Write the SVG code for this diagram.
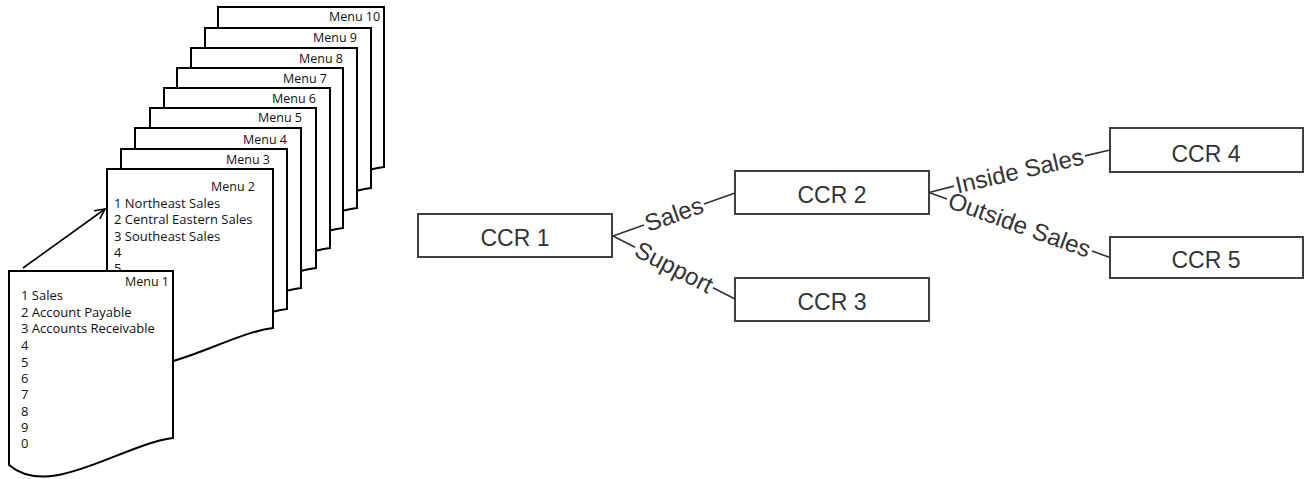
<svg xmlns="http://www.w3.org/2000/svg" width="1304" height="479" viewBox="0 0 1304 479">
<style>
.page{fill:#fff;stroke:#000;stroke-width:2;stroke-linejoin:miter}
.mt{font-family:"Open Sans","Liberation Sans",sans-serif;font-size:12.5px;fill:#111}
.li{font-size:13px}
.box{fill:#fff;stroke:#404040;stroke-width:2}
.ct{font-family:"Liberation Sans",Arial,sans-serif;font-size:23px;fill:#333;text-anchor:middle}
.lbl{font-family:"Liberation Sans",Arial,sans-serif;font-size:24px;fill:#333;text-anchor:middle}
.con{stroke:#333;stroke-width:1.6;fill:none}
</style>
<defs>
<marker id="open" markerWidth="12" markerHeight="12" refX="11" refY="6" orient="auto" markerUnits="userSpaceOnUse">
<path d="M1,1 L11,6 L1,11" fill="none" stroke="#000" stroke-width="1.6"/>
</marker>
</defs>
<rect width="1304" height="479" fill="#fff"/>

<g id="menu10"><path class="page" d="M218 7 h166 v160 C331 174 259.5 229 218 194 Z"/><text class="mt" x="329" y="21">Menu 10</text></g>
<g id="menu9"><path class="page" d="M205 28 h166 v160 C318 195 246.5 250 205 215 Z"/><text class="mt" x="313" y="42">Menu 9</text></g>
<g id="menu8"><path class="page" d="M191 48 h166 v160 C304 215 232.5 270 191 235 Z"/><text class="mt" x="299" y="63">Menu 8</text></g>
<g id="menu7"><path class="page" d="M177 68 h166 v160 C290 235 218.5 290 177 255 Z"/><text class="mt" x="283" y="83">Menu 7</text></g>
<g id="menu6"><path class="page" d="M164 88 h166 v160 C277 255 205.5 310 164 275 Z"/><text class="mt" x="272" y="103">Menu 6</text></g>
<g id="menu5"><path class="page" d="M150 108 h166 v160 C263 275 191.5 330 150 295 Z"/><text class="mt" x="258" y="122">Menu 5</text></g>
<g id="menu4"><path class="page" d="M135 128 h166 v160 C248 295 176.5 350 135 315 Z"/><text class="mt" x="243" y="144">Menu 4</text></g>
<g id="menu3"><path class="page" d="M121 149 h166 v160 C234 316 162.5 371 121 336 Z"/><text class="mt" x="226" y="164">Menu 3</text></g>
<g id="menu2"><path class="page" d="M107 169 h166 v159 C220 335 148.5 390 107 355 Z"/>
<text class="mt" x="211" y="191">Menu 2</text>
<text class="mt li" x="114" y="208">1 Northeast Sales</text>
<text class="mt li" x="114" y="224">2 Central Eastern Sales</text>
<text class="mt li" x="114" y="241">3 Southeast Sales</text>
<text class="mt li" x="114" y="257">4</text>
<text class="mt li" x="114" y="273">5</text>
</g>
<g id="menu1"><path class="page" d="M9 271 h164 v167 C120 445 50 500 9 465 Z"/>
<text class="mt" x="125" y="286">Menu 1</text>
<text class="mt li" x="21" y="300">1 Sales</text>
<text class="mt li" x="21" y="317">2 Account Payable</text>
<text class="mt li" x="21" y="333">3 Accounts Receivable</text>
<text class="mt li" x="21" y="350">4</text>
<text class="mt li" x="21" y="367">5</text>
<text class="mt li" x="21" y="383">6</text>
<text class="mt li" x="21" y="399">7</text>
<text class="mt li" x="21" y="416">8</text>
<text class="mt li" x="21" y="432">9</text>
<text class="mt li" x="21" y="448">0</text>
</g>

<g id="ccr1"><rect class="box" x="418" y="214" width="194" height="43"/><text class="ct" x="515" y="246">CCR 1</text></g>
<g id="ccr2"><rect class="box" x="735" y="171" width="194" height="43"/><text class="ct" x="832" y="203">CCR 2</text></g>
<g id="ccr3"><rect class="box" x="735" y="278" width="194" height="43"/><text class="ct" x="832" y="310">CCR 3</text></g>
<g id="ccr4"><rect class="box" x="1110" y="128" width="193" height="44"/><text class="ct" x="1206" y="162">CCR 4</text></g>
<g id="ccr5"><rect class="box" x="1110" y="237" width="193" height="41"/><text class="ct" x="1206" y="268">CCR 5</text></g>

<g id="connectors">
<line x1="23" y1="268" x2="105" y2="209" stroke="#000" stroke-width="1.6" marker-end="url(#open)"/>
<path class="con" d="M613 236 L644 225 M704 204 L735 193"/>
<text class="lbl" transform="translate(674 214.5) rotate(-19.27)" y="8">Sales</text>
<path class="con" d="M613 236 L635 247.3 M713 287.7 L735 299"/>
<text class="lbl" transform="translate(674 267.5) rotate(27.3)" y="8">Support</text>
<path class="con" d="M929 192.5 L954 186.1 M1085 155.9 L1110 150"/>
<text class="lbl" transform="translate(1019.5 171) rotate(-13.06)" y="8">Inside Sales</text>
<path class="con" d="M929 192.5 L947 199 M1092 251 L1110 257.5"/>
<text class="lbl" transform="translate(1019.5 225) rotate(19.75)" y="8">Outside Sales</text>
</g>
</svg>
